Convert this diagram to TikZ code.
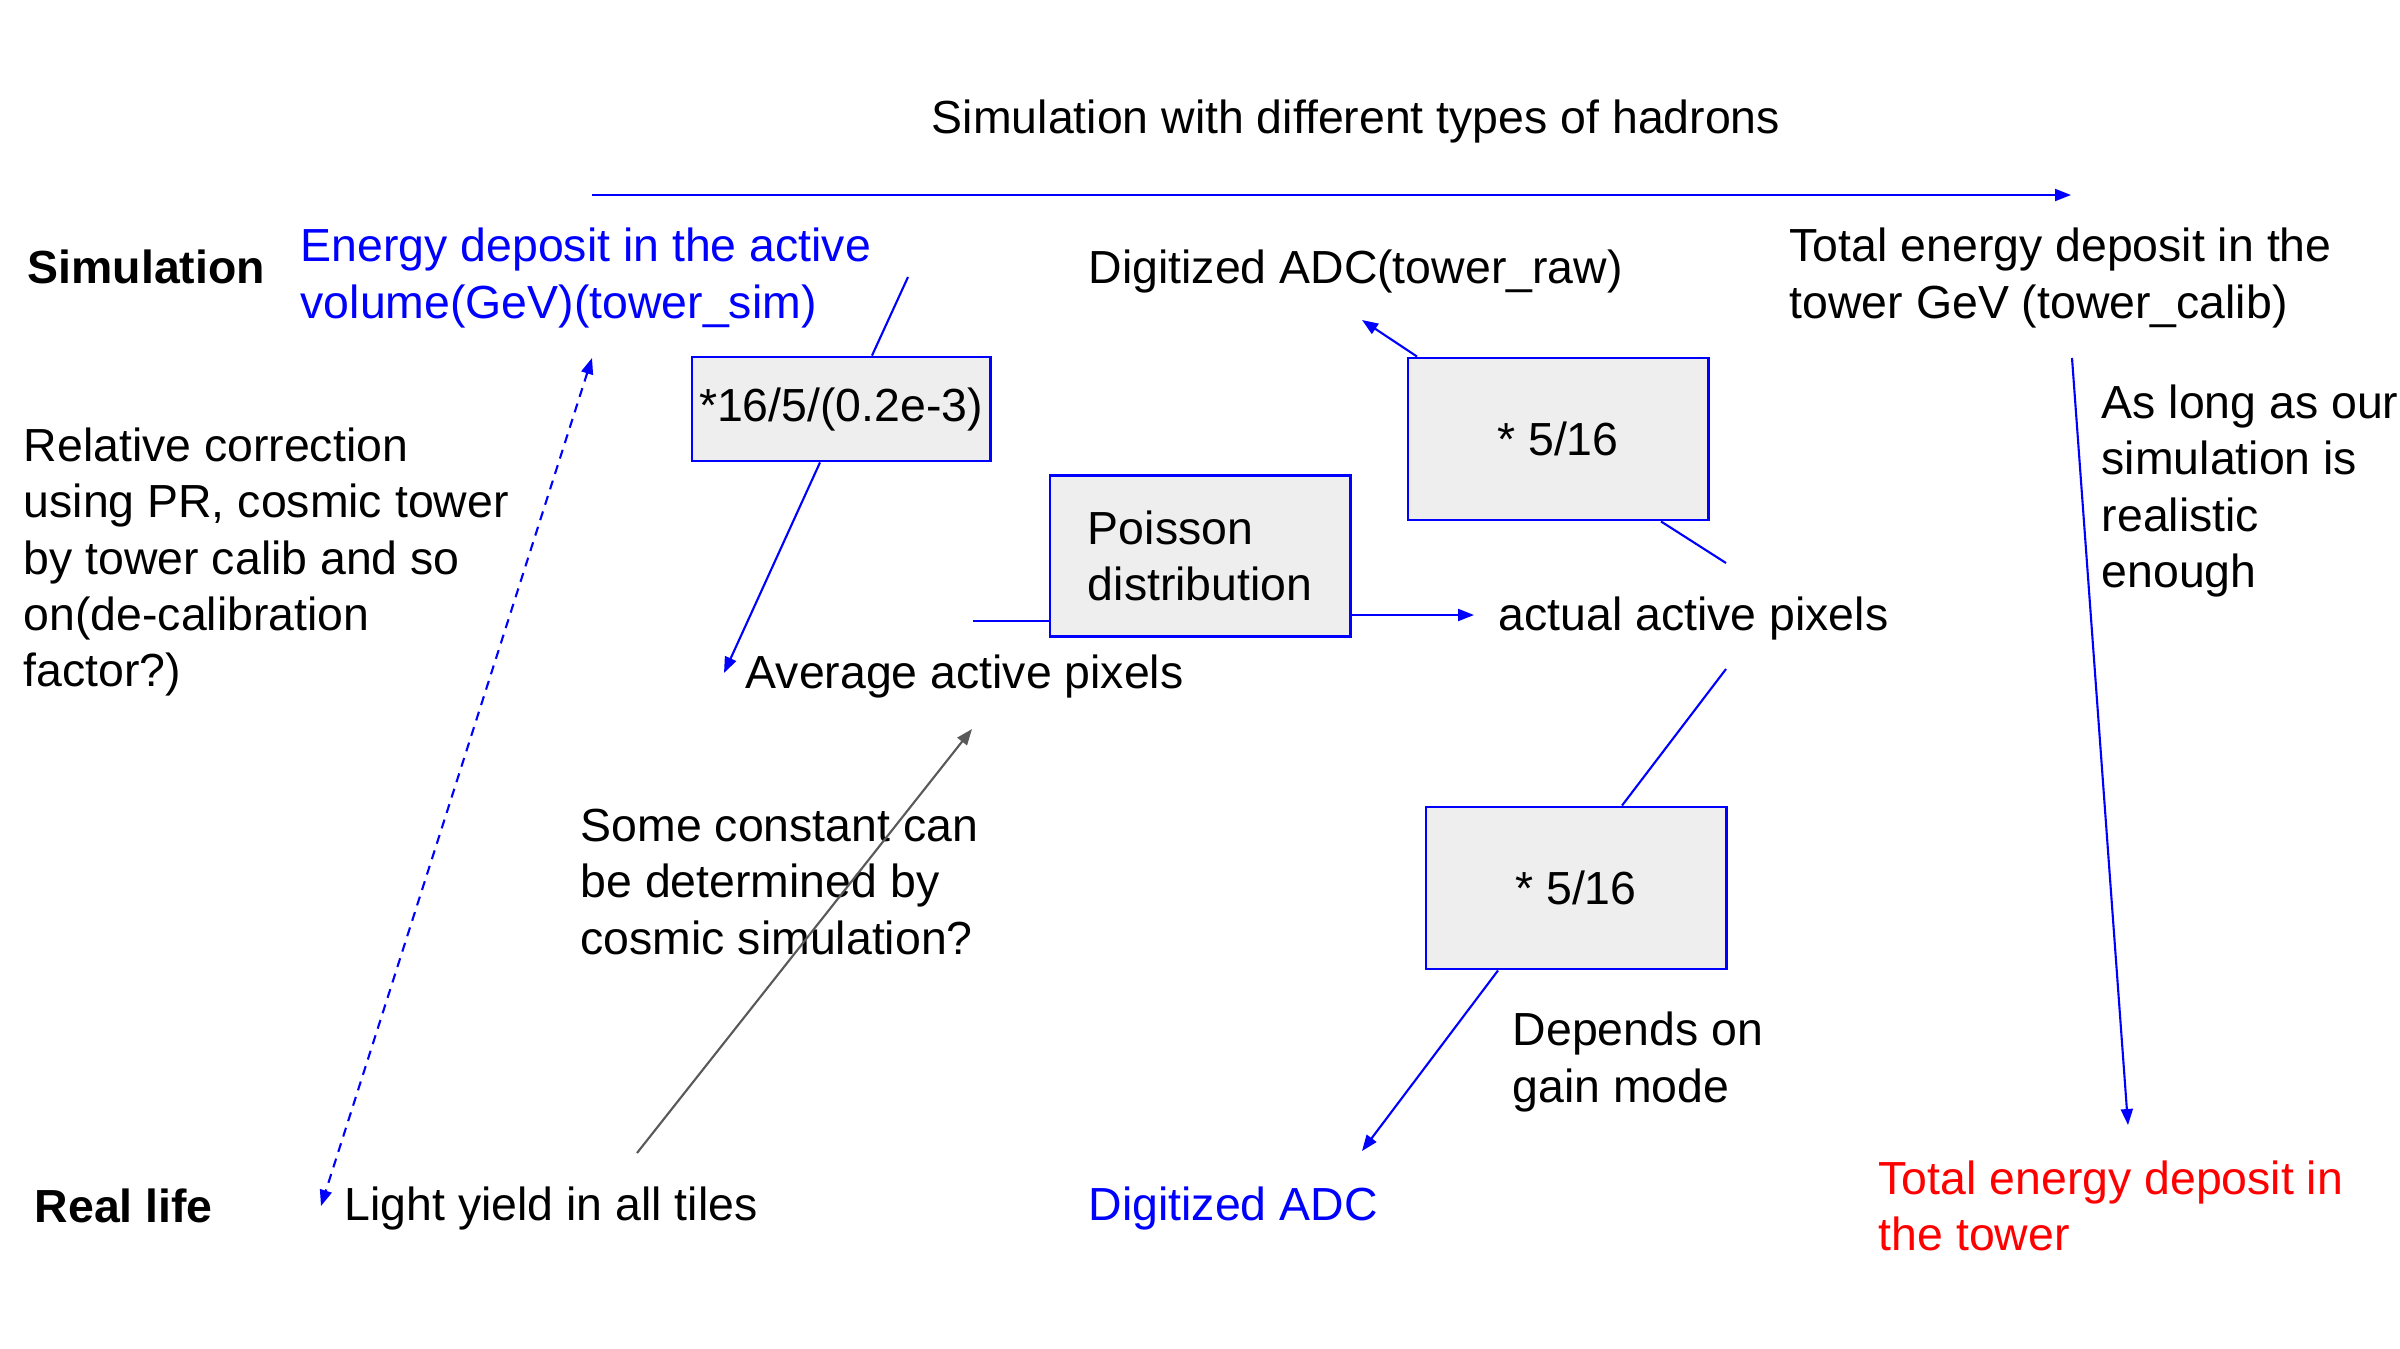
\documentclass[tikz,border=0pt]{standalone}
\usepackage{fontspec}
\setmainfont{Liberation Sans}
\usetikzlibrary{arrows.meta}
\definecolor{boxgray}{HTML}{EEEEEE}
\definecolor{arrgray}{HTML}{595959}
\begin{document}
\begin{tikzpicture}[x=0.01cm,y=-0.01cm,
  txt/.style={inner sep=0pt,font=\fontsize{13.2pt}{16pt}\selectfont,align=left,anchor=west},
  calcbox/.style={draw=blue,line width=0.8pt,fill=boxgray,inner sep=0pt,
    font=\fontsize{13.2pt}{16pt}\selectfont},
  link/.style={draw=blue,line width=0.6pt},
  tip/.style={-{Triangle[length=1.6mm,width=1.2mm]}},
  dtip/.style={{Triangle[length=1.6mm,width=1.2mm]}-{Triangle[length=1.6mm,width=1.2mm]}},
]
\useasboundingbox (0,0) rectangle (2400,1348);
\fill[white] (0,0) rectangle (2400,1348);

% text nodes
\node[txt,anchor=center] (title) at (1356,121) {Simulation with different types of hadrons};
\node[txt,font=\fontsize{13.2pt}{16pt}\selectfont\bfseries] (simlab) at (27,267) {Simulation};
\node[txt,font=\fontsize{13.2pt}{16pt}\selectfont\bfseries] (reallab) at (34,1206) {Real life};
\node[txt,text=blue] (esim) at (300,278) {Energy deposit in the active\\volume(GeV)(tower\_sim)};
\node[txt] (avg) at (745,676) {Average active pixels};
\node[txt] (act) at (1498,618) {actual active pixels};
\node[txt] (raw) at (1088,271) {Digitized ADC(tower\_raw)};
\node[txt,text=blue] (dadc) at (1088,1208) {Digitized ADC};
\node[txt] (dep) at (1512,1062) {Depends on\\gain mode};
\node[txt] (calib) at (1789,278) {Total energy deposit in the\\tower GeV (tower\_calib)};
\node[txt] (aslong) at (2101,491) {As long as our\\simulation is\\realistic\\enough};
\node[txt,text=red] (totred) at (1878,1206) {Total energy deposit in\\the tower};
\node[txt] (relcorr) at (23,562) {Relative correction\\using PR, cosmic tower\\by tower calib and so\\on(de-calibration\\factor?)};
\node[txt] (light) at (344,1208) {Light yield in all tiles};
\node[txt] (some) at (580,882) {Some constant can\\be determined by\\cosmic simulation?};

% boxes
\node[calcbox,minimum width=2.98cm,minimum height=1.04cm] (b1) at (841,409) {*16/5/(0.2e-3)};
\node[calcbox,text width=2.24cm,inner xsep=0.38cm,minimum height=1.61cm,align=left] (pois) at (1200,556) {Poisson\\distribution};
\node[calcbox,minimum width=3cm,minimum height=1.62cm] (b2) at (1558,439) {* 5/16};
\node[calcbox,minimum width=3cm,minimum height=1.62cm] (b3) at (1576,888) {* 5/16};

% free ends and crossing points
\coordinate (topL) at (592,195);
\coordinate (topR) at (2071,195);
\coordinate (dA) at (592,358);
\coordinate (dB) at (321,1206);
\coordinate (gA) at (637,1153);
\coordinate (gB) at (972,729);
\coordinate (c1) at (908,277);
\coordinate (c2) at (724,673);
\coordinate (c3) at (973,621);
\coordinate (c4) at (1474,615);
\coordinate (c5) at (1726,563);
\coordinate (c6) at (1362,320);
\coordinate (c7) at (1726,669);
\coordinate (c8) at (1362,1151);
\coordinate (c9) at (2072,358);
\coordinate (c10) at (2128,1125);
\coordinate (x1in) at (872,0);
\coordinate (x1out) at (820,0);
\coordinate (x2in) at (1661,0);
\coordinate (x2out) at (1417,0);
\coordinate (x3in) at (1622,0);
\coordinate (x3out) at (1498,0);

% connectors
\draw[link,tip] (topL) -- (topR);
\draw[link,dtip,dash pattern=on 2.6pt off 2pt] (dA) -- (dB);
\draw[draw=arrgray,line width=0.6pt,-{Triangle[length=1.6mm,width=1.2mm]},fill=arrgray] (gA) -- (gB);
\draw[link] (c1) -- (x1in |- b1.north);
\draw[link,tip] (x1out |- b1.south) -- (c2);
\draw[link] (c3) -- (c3 -| pois.west);
\draw[link,tip] (c4 -| pois.east) -- (c4);
\draw[link] (c5) -- (x2in |- b2.south);
\draw[link,tip] (x2out |- b2.north) -- (c6);
\draw[link] (c7) -- (x3in |- b3.north);
\draw[link,tip] (x3out |- b3.south) -- (c8);
\draw[link,tip] (c9) -- (c10);
\end{tikzpicture}
\end{document}
